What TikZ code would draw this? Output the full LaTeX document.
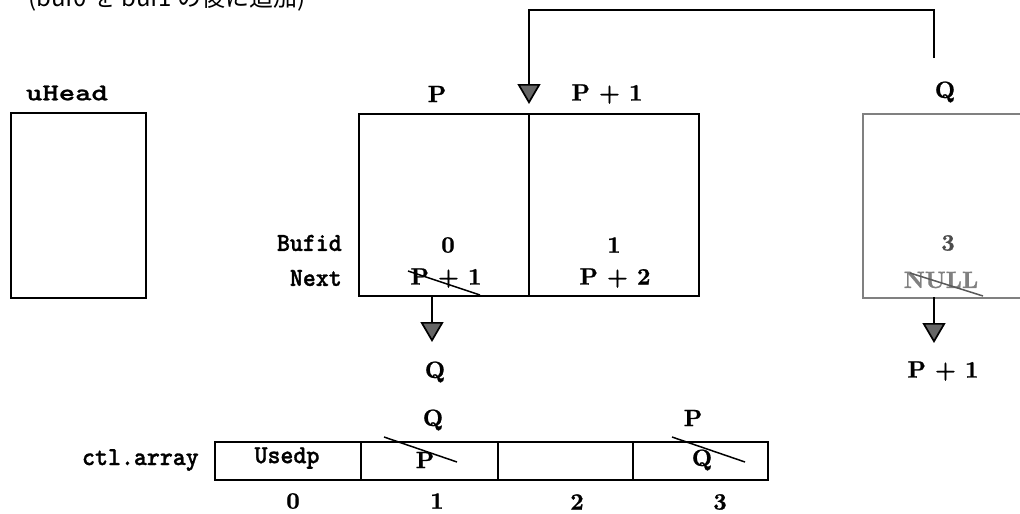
\documentclass[tikz,border=0pt]{standalone}
\usepackage{fontspec}
\newfontfamily\narrowmono[Extension=.otf, UprightFont=lmmonolt10-bold, FakeStretch=0.95, FakeBold=1.2]{lmmono10}
\newfontfamily\widemono[Extension=.otf, UprightFont=lmmonolt10-bold, FakeStretch=1.3, FakeBold=1]{lmmono10}
\newfontfamily\numfont[Extension=.otf, UprightFont=lmroman10-bold, FakeBold=1]{lmroman10}
\newfontfamily\jpfont{Noto Sans CJK JP}
\usetikzlibrary{arrows.meta,calc}
\tikzset{
  cell/.style={draw, line width=1.7pt, inner sep=0pt, anchor=north west},
  num/.style={font=\fontsize{23.5}{25}\selectfont\numfont, inner sep=0pt},
  mono/.style={font=\fontsize{26}{28}\selectfont\narrowmono, inner sep=0pt},
  garrow/.style={line width=1.7pt, -{Triangle[width=23pt,length=20pt,fill=black!60]}},
  strike/.style={line width=1.5pt},
}
\begin{document}
\begin{tikzpicture}[x=1pt,y=-1pt]
\useasboundingbox (0,0) rectangle (1020,514);
\fill[white] (0,0) rectangle (1020,514);

% title, cut off at the top edge as in the reference
\node[anchor=base west, inner sep=0pt, font=\jpfont\fontsize{24}{26}\selectfont] (title) at (28,6) {(buf0 を buf1 の後に追加)};

% uHead
\node[inner sep=0pt, font=\fontsize{24}{26}\selectfont\widemono] (uheadlab) at (67,93) {uHead};
\node[cell, minimum width=135pt, minimum height=185pt] (uhead) at (10,112) {};

% buffers P and P+1
\node[cell, minimum width=170pt, minimum height=182pt] (bufP) at (358,113) {};
\node[cell, minimum width=170pt, minimum height=182pt] (bufP1) at (528,113) {};
\node[num] (lP) at (437,94) {P};
\node[num] (lP1) at (607,94) {P + 1};

\node[mono, anchor=east] (bufid) at (342,243) {Bufid};
\node[mono, anchor=east] (next) at (342,278) {Next};

\node[num] (id0) at (448,245) {0};
\node[num] (nx0) at (446,278) {P + 1};
\draw[strike] (408,271) -- (480,295);
\node[num] (id1) at (614,245) {1};
\node[num] (nx1) at (615,278) {P + 2};

% buffer Q (faded)
\node[cell, draw=black!50, minimum width=190pt, minimum height=184pt] (bufQ) at (862,113) {};
\node[num] (lQ) at (945,92) {Q};
\node[num, text=black!70] (id3) at (948,243) {3};
\node[num, text=black!50] (nx3) at (941,280) {NULL};
\draw[strike, draw=black!65] (910,273) -- (983,296);

% pointers out of the Next fields
\coordinate (pOut) at (432,295);
\coordinate (pTip) at (432,342);
\node[num] (pTarget) at (435,372) {Q};
\draw[garrow] (pOut) -- (pTip);

\coordinate (qOut) at (934,297);
\coordinate (qTip) at (934,343);
\node[num] (qTarget) at (943,371) {P + 1};
\draw[garrow] (qOut) -- (qTip);

% insertion connector from Q to between P and P+1
\coordinate (qTop) at (934,58);
\coordinate (bendL) at (529,10);
\coordinate (insTip) at (529,104);
\draw[garrow] (qTop) |- (bendL) -- (insTip);

% ctl.array
\node[mono, anchor=east] (ctl) at (199,460) {ctl.array};
\node[cell, minimum width=146pt, minimum height=38pt] (a0) at (214,441) {};
\node[cell, minimum width=137pt, minimum height=38pt] (a1) at (360,441) {};
\node[cell, minimum width=135pt, minimum height=38pt] (a2) at (497,441) {};
\node[cell, minimum width=135pt, minimum height=38pt] (a3) at (632,441) {};

\node[mono] (usedp) at (287,458) {Usedp};
\node[num] (a1old) at (425,460) {P};
\draw[strike] (384,437) -- (457,462);
\node[num] (a1new) at (433,420) {Q};
\node[num] (a3old) at (702,460) {Q};
\draw[strike] (672,437) -- (745,462);
\node[num] (a3new) at (693,418) {P};

\node[num] (i0) at (293,501) {0};
\node[num] (i1) at (437,501) {1};
\node[num] (i2) at (577,502) {2};
\node[num] (i3) at (720,502) {3};
\end{tikzpicture}
\end{document}
